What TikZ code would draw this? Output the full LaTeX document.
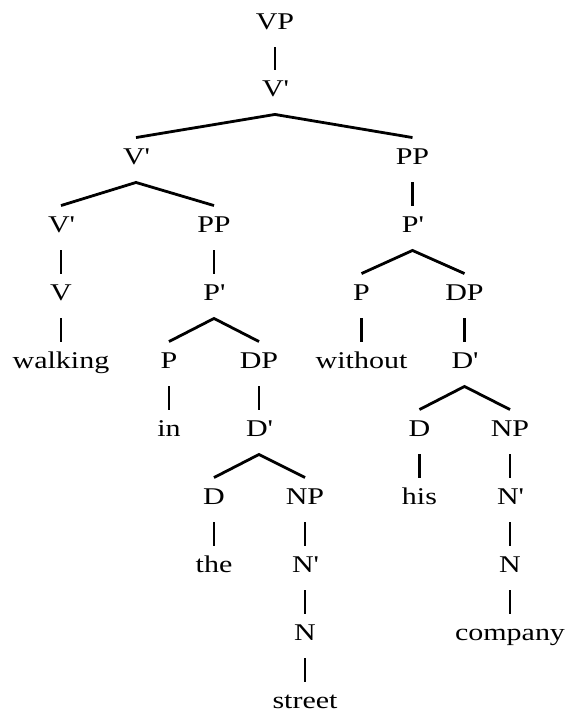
\documentclass[tikz,border=0pt]{standalone}
\usepackage{fontspec}
\setmainfont{Liberation Serif}[FakeStretch=1.25]
\usepackage{tikz}
\newcommand{\tick}{\textquotesingle}

\begin{document}
\begin{tikzpicture}[x=1pt,y=-1pt]
\tikzset{cat/.style = {anchor=base,inner xsep=0pt,inner ysep=10.75pt,text height=15.5pt,text depth=7.5pt,font=\fontsize{24}{28}\selectfont}}
\tikzset{branch/.style = {-,line width=2.8pt}}
\useasboundingbox (0,0) rectangle (566,713);
\node[cat] (vp)      at (275,29)  {VP};
\node[cat] (vbar)    at (275,96)  {V\tick};
\node[cat] (vbarA)   at (136,164) {V\tick};
\node[cat] (pp)      at (412.5,164) {PP};
\node[cat] (vbarB)   at (61,232)  {V\tick};
\node[cat] (ppA)     at (214,232) {PP};
\node[cat] (pbar)    at (412.5,232) {P\tick};
\node[cat] (v)       at (61,300)  {V};
\node[cat] (pbarA)   at (214,300) {P\tick};
\node[cat] (p)       at (361.5,300) {P};
\node[cat] (dp)      at (464.5,300) {DP};
\node[cat] (walking) at (61,368)  {walking};
\node[cat] (pA)      at (169,368) {P};
\node[cat] (dpA)     at (259,368) {DP};
\node[cat] (without) at (361.5,368) {without};
\node[cat] (dbar)    at (464.5,368) {D\tick};
\node[cat] (in)      at (169,436) {in};
\node[cat] (dbarA)   at (259,436) {D\tick};
\node[cat] (d)       at (419.5,436) {D};
\node[cat] (np)      at (510,436) {NP};
\node[cat] (dA)      at (214,504) {D};
\node[cat] (npA)     at (305,504) {NP};
\node[cat] (his)     at (419.5,504) {his};
\node[cat] (nbar)    at (510,504) {N\tick};
\node[cat] (the)     at (214,572) {the};
\node[cat] (nbarA)   at (305,572) {N\tick};
\node[cat] (n)       at (510,572) {N};
\node[cat] (nA)      at (305,640) {N};
\node[cat] (company) at (510,640) {company};
\node[cat] (street)  at (305,708) {street};
\draw[branch] (vp.south)    to (vbar.north);
\draw[branch] (vbarA.north) to (vbar.south) to (pp.north);
\draw[branch] (vbarB.north) to (vbarA.south) to (ppA.north);
\draw[branch] (vbarB.south) to (v.north);
\draw[branch] (v.south)     to (walking.north);
\draw[branch] (ppA.south)   to (pbarA.north);
\draw[branch] (pA.north)    to (pbarA.south) to (dpA.north);
\draw[branch] (pA.south)    to (in.north);
\draw[branch] (dpA.south)   to (dbarA.north);
\draw[branch] (dA.north)    to (dbarA.south) to (npA.north);
\draw[branch] (dA.south)    to (the.north);
\draw[branch] (npA.south)   to (nbarA.north);
\draw[branch] (nbarA.south) to (nA.north);
\draw[branch] (nA.south)    to (street.north);
\draw[branch] (pp.south)    to (pbar.north);
\draw[branch] (p.north)     to (pbar.south) to (dp.north);
\draw[branch] (p.south)     to (without.north);
\draw[branch] (dp.south)    to (dbar.north);
\draw[branch] (d.north)     to (dbar.south) to (np.north);
\draw[branch] (d.south)     to (his.north);
\draw[branch] (np.south)    to (nbar.north);
\draw[branch] (nbar.south)  to (n.north);
\draw[branch] (n.south)     to (company.north);
\end{tikzpicture}
\end{document}
